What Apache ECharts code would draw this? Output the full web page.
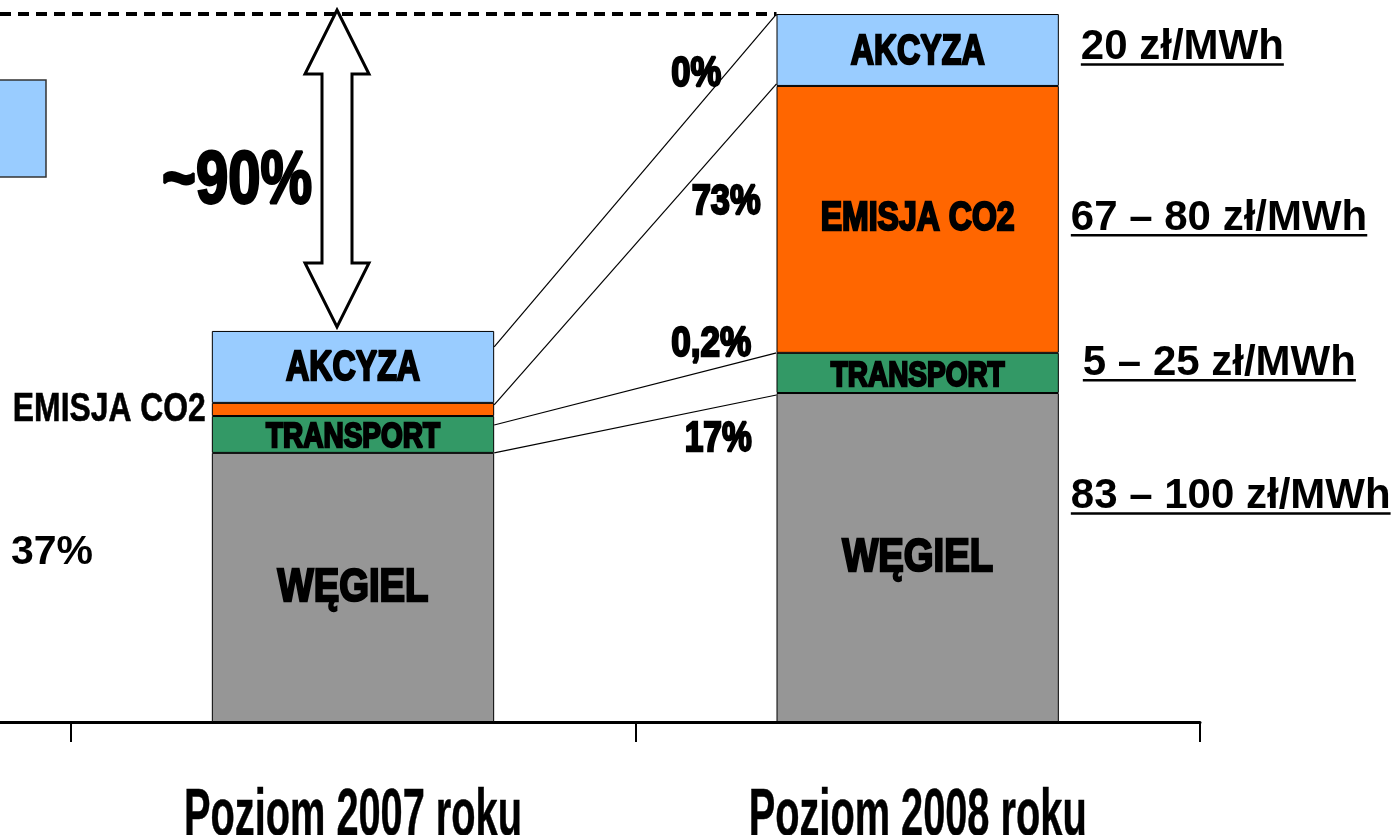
<!DOCTYPE html>
<html lang="pl">
<head>
<meta charset="UTF-8">
<title>Koszty energii 2007 / 2008</title>
<script src="https://cdn.jsdelivr.net/npm/echarts@6/dist/echarts.min.js"></script>
<style>
  html, body { margin: 0; padding: 0; background: #fff; }
  #chart { width: 1400px; height: 835px; }
</style>
</head>
<body>
<div id="chart"></div>
<script>
// dane (zł/MWh, w przybliżeniu)
var categories = ['', 'Poziom 2007 roku', 'Poziom 2008 roku'];
var segNames  = ['WĘGIEL', 'TRANSPORT', 'EMISJA CO2', 'AKCYZA'];
var wegiel    = ['-', 73.7, 90.1];
var transport = ['-', 10.1, 11.0];
var emisja    = ['-', 3.6, 73.1];
var akcyza    = ['-', 19.7, 19.7];

var pctLabels   = ['0%', '73%', '0,2%', '17%'];
var priceLabels = ['20 zł/MWh', '67 – 80 zł/MWh', '5 – 25 zł/MWh', '83 – 100 zł/MWh'];

var SANS = "'Liberation Sans', Arial, sans-serif";
var colors = ['#969696', '#339966', '#FF6600', '#99CCFF'];

var chart = echarts.init(document.getElementById('chart'));

function serie(idx, data) {
    return {
        name: segNames[idx],
        type: 'bar',
        stack: 'koszt',
        barWidth: '50%',
        data: data,
        itemStyle: { color: colors[idx], borderColor: '#000', borderWidth: 1 },
        emphasis: { disabled: true }
    };
}

var option = {
    animation: false,
    grid: { left: -494, right: 200, top: 10, bottom: 113, outerBoundsMode: 'none' },
    xAxis: {
        type: 'category',
        data: categories,
        axisLine: { lineStyle: { color: '#000', width: 3 } },
        axisTick: { show: true, interval: 0, alignWithLabel: false, length: 20, lineStyle: { color: '#000', width: 2 } },
        axisLabel: { show: false }
    },
    yAxis: { type: 'value', min: 0, max: 195, show: false },
    series: [serie(0, wegiel), serie(1, transport), serie(2, emisja), serie(3, akcyza)]
};
chart.setOption(option);

// --- adnotacje liczone ze skali osi ---
function px(ci, v) {
    return chart.convertToPixel({ xAxisIndex: 0, yAxisIndex: 0 }, [ci, v]);
}
function stackOf(ci) {
    return [wegiel[ci], transport[ci], emisja[ci], akcyza[ci]];
}
function tops(ci) {
    var a = wegiel[ci], b = a + transport[ci], c = b + emisja[ci], d = c + akcyza[ci];
    return [d, c, b, a];
}
var measure = document.createElement('canvas').getContext('2d');
function textWidth(txt, font) {
    measure.font = font;
    return measure.measureText(txt).width;
}
// wąski, pogrubiony napis (jak Arial Narrow) - ściskany w poziomie do zadanej szerokości
function condText(txt, x, y, cap, width, align, heavy) {
    var size = cap / 0.716;
    var font = 'bold ' + size.toFixed(1) + 'px ' + SANS;
    var sx = width / textWidth(txt, font);
    return {
        type: 'text', x: x, y: y, scaleX: sx, z: 12,
        style: { text: txt, x: 0, y: 0, font: font, textAlign: align || 'center', textVerticalAlign: 'middle',
            fill: '#000', stroke: '#000', lineWidth: heavy || 0 }
    };
}

function drawAnnotations() {
    var g = [];
    var c07 = px(1, 0)[0], c08 = px(2, 0)[0];
    var half = (c08 - c07) / 4;
    var left07 = c07 - half, right07 = c07 + half, left08 = c08 - half, right08 = c08 + half;
    var t07 = tops(1), t08 = tops(2);
    var yTop08 = px(2, t08[0])[1], yTop07 = px(1, t07[0])[1];

    // podpisy wewnątrz słupków
    var capSize = [33, 25.5, 28.5, 30];
    var labWidth = [151, 174, 194, 134];
    var labDy = [1, 3, 0, 2];
    [1, 2].forEach(function (ci) {
        var vals = stackOf(ci), base = 0;
        for (var s = 0; s < 4; s++) {
            var mid = px(ci, base + vals[s] / 2)[1];
            base += vals[s];
            if (ci === 1 && s === 2) {
                // segment za wąski - podpis z lewej strony
                g.push(condText(segNames[s], left07 - 6, mid, 29, 193, 'right', 0.6));
                continue;
            }
            g.push(condText(segNames[s], px(ci, 0)[0], mid + labDy[s], capSize[s], labWidth[s], 'center', 2.4));
        }
    });

    // podpisy kategorii
    [1, 2].forEach(function (ci) {
        g.push(condText(categories[ci], px(ci, 0)[0], px(ci, 0)[1] + 95, 48, 338, 'center', 0.5));
    });

    // linia przerywana na poziomie 2008
    g.push({ type: 'line', shape: { x1: 0, y1: yTop08, x2: left08, y2: yTop08 },
        style: { stroke: '#000', lineWidth: 4, lineDash: [11, 7] }, z: 10 });

    // linie łączące segmenty
    var startShift = [16, 2, 9, 0];
    var endShift = [0, -2, 0, 2];
    for (var i = 0; i < 4; i++) {
        var y1 = px(1, t07[i])[1] + startShift[i];
        var y2 = px(2, t08[i])[1] + endShift[i];
        g.push({ type: 'line', shape: { x1: right07, y1: y1, x2: left08, y2: y2 },
            style: { stroke: '#000', lineWidth: 1.2 }, z: 10 });
    }

    // strzałka dwukierunkowa
    var ax = c07 - 16, ty = yTop08 - 4, by = yTop07 - 4, hw = 32, sw = 15, hh = 64;
    g.push({ type: 'polygon', z: 11, shape: { points: [
        [ax, ty], [ax + hw, ty + hh], [ax + sw, ty + hh], [ax + sw, by - hh], [ax + hw, by - hh],
        [ax, by], [ax - hw, by - hh], [ax - sw, by - hh], [ax - sw, ty + hh], [ax - hw, ty + hh]
    ] }, style: { fill: '#fff', stroke: '#000', lineWidth: 3, lineJoin: 'miter' } });

    g.push(condText('~90%', ax - 25, (ty + by) / 2 + 14, 53, 150, 'right', 2.8));

    // procenty pomiędzy słupkami
    var pctLevels = [177.5, 142.5, 103.5, 77.5];
    var pctCx = [202, 232, 217, 224];
    var pctW = [50, 69, 80, 67];
    for (var k = 0; k < 4; k++) {
        g.push(condText(pctLabels[k], right07 + pctCx[k], px(1, pctLevels[k])[1], 31, pctW[k], 'center', 2.4));
    }

    // ceny z prawej strony (podkreślone)
    var priceLevels = [184.8, 138.0, 98.3, 61.8];
    var priceDx = [22, 12, 24, 12];
    var pFont = 'bold 42px ' + SANS;
    for (var m = 0; m < 4; m++) {
        var x = right08 + priceDx[m], y = px(2, priceLevels[m])[1];
        var w = textWidth(priceLabels[m], pFont);
        g.push({ type: 'text', z: 12, style: { text: priceLabels[m], x: x, y: y,
            textAlign: 'left', textVerticalAlign: 'middle', font: pFont, fill: '#000' } });
        g.push({ type: 'rect', z: 12, shape: { x: x, y: y + 16, width: w, height: 2.5 }, style: { fill: '#000' } });
    }

    // fragmenty z lewej strony slajdu
    g.push({ type: 'rect', z: 5, shape: { x: -2, y: 80, width: 48, height: 97 },
        style: { fill: '#99CCFF', stroke: '#333', lineWidth: 1.5 } });
    g.push({ type: 'text', z: 12, style: { text: '37%', x: 11, y: px(1, 46.4)[1],
        textAlign: 'left', textVerticalAlign: 'middle', font: 'bold 41px ' + SANS, fill: '#000' } });

    chart.setOption({ graphic: g });
}
drawAnnotations();
</script>
</body>
</html>
